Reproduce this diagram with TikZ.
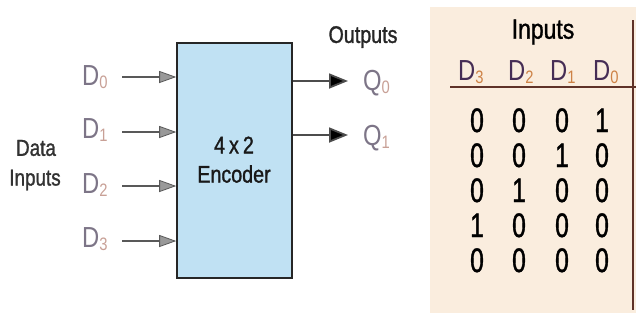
\documentclass[tikz,border=0pt]{standalone}
\usepackage{fontspec}
\setmainfont[FakeStretch=0.82]{Liberation Sans}
\newfontfamily\heavy[FakeStretch=0.82,FakeBold=1.2]{Liberation Sans}
\newfontfamily\digitfont[FakeStretch=0.72,FakeBold=1.2]{Liberation Sans}
\usetikzlibrary{arrows.meta}
\definecolor{boxblue}{RGB}{192,225,243}
\definecolor{tabbg}{RGB}{250,237,222}
\definecolor{tabline}{RGB}{95,50,40}
\definecolor{dgray}{RGB}{125,117,135}
\definecolor{subpeach}{RGB}{200,160,150}
\definecolor{hdD}{RGB}{70,45,85}
\definecolor{hdsub}{RGB}{205,130,70}
\definecolor{txt}{RGB}{50,50,50}
\newcommand{\Sig}[4]{\textcolor{#3}{#1}\raisebox{-3pt}{\fontsize{18}{18}\selectfont\textcolor{#4}{#2}}}
\tikzset{
  lbl/.style={inner sep=0pt, anchor=base west, font=\fontsize{29}{31}\selectfont},
  plain/.style={inner sep=0pt, text=txt, font=\heavy\fontsize{23}{25}\selectfont},
  digit/.style={inner sep=0pt, anchor=base, text=black, font=\digitfont\fontsize{34}{36}\selectfont},
  inarr/.style={draw=black!65, line width=1.8pt, -{Triangle[length=17pt,width=12pt,fill=black!40,line width=0.8pt]}},
  outarr/.style={draw=black!70, line width=1.8pt, -{Triangle[length=19pt,width=15pt,fill=black]}},
  tabrule/.style={draw=tabline, line width=1.8pt}
}
\begin{document}
\begin{tikzpicture}[x=1pt,y=-1pt]
\path[use as bounding box, fill=white] (0,0) rectangle (636,327);
% encoder block
\node[draw=black!85, line width=1.6pt, fill=boxblue, minimum width=115pt, minimum height=235pt, inner sep=0pt] (enc) at (234.5,160.5) {};
\node[inner sep=0pt, text=black!90, font=\heavy\fontsize{24}{26}\selectfont] (t42) at (234,145) {4\,x\,2};
\node[inner sep=0pt, text=black!90, font=\heavy\fontsize{24}{26}\selectfont] (tenc) at (234,174) {Encoder};
% data inputs
\node[plain] (data) at (36,148) {Data};
\node[plain] (dinp) at (35,180) {Inputs};
\node[lbl] (d0) at (82,85) {\Sig{D}{0}{dgray}{subpeach}};
\node[lbl] (d1) at (82,138) {\Sig{D}{1}{dgray}{subpeach}};
\node[lbl] (d2) at (82,193) {\Sig{D}{2}{dgray}{subpeach}};
\node[lbl] (d3) at (82,247) {\Sig{D}{3}{dgray}{subpeach}};
\coordinate (i0) at (122,77);
\coordinate (i1) at (122,132);
\coordinate (i2) at (122,186);
\coordinate (i3) at (122,241);
\draw[inarr] (i0) -- (i0 -| enc.west);
\draw[inarr] (i1) -- (i1 -| enc.west);
\draw[inarr] (i2) -- (i2 -| enc.west);
\draw[inarr] (i3) -- (i3 -| enc.west);
% outputs
\node[plain, text=black!85, font=\heavy\fontsize{24}{26}\selectfont] (outs) at (363,37) {Outputs};
\coordinate (o0) at (348,81);
\coordinate (o1) at (348,135);
\draw[outarr] (o0 -| enc.east) -- (o0);
\draw[outarr] (o1 -| enc.east) -- (o1);
\node[lbl] (q0) at (363,90) {\Sig{Q}{0}{dgray}{subpeach}};
\node[lbl] (q1) at (363,145) {\Sig{Q}{1}{dgray}{subpeach}};
% truth table (inputs part)
\node[fill=tabbg, minimum width=206pt, minimum height=306pt, inner sep=0pt] (tab) at (533,160) {};
\coordinate (vt) at (633,20);
\coordinate (vb) at (633,310);
\coordinate (hl) at (450,87);
\coordinate (hr) at (636,87);
\draw[tabrule] (vt) -- (vb);
\draw[tabrule] (hl) -- (hr);
\node[inner sep=0pt, text=black, font=\heavy\fontsize{28}{30}\selectfont] (tinp) at (543,32) {Inputs};
\node[lbl] (h3) at (458,80) {\Sig{D}{3}{hdD}{hdsub}};
\node[lbl] (h2) at (508,80) {\Sig{D}{2}{hdD}{hdsub}};
\node[lbl] (h1) at (550,80) {\Sig{D}{1}{hdD}{hdsub}};
\node[lbl] (h0) at (593,80) {\Sig{D}{0}{hdD}{hdsub}};
% rows
\node[digit] (r1a) at (477,132) {0}; \node[digit] (r1b) at (519,132) {0}; \node[digit] (r1c) at (562,132) {0}; \node[digit] (r1d) at (602,132) {1};
\node[digit] (r2a) at (477,167) {0}; \node[digit] (r2b) at (519,167) {0}; \node[digit] (r2c) at (562,167) {1}; \node[digit] (r2d) at (602,167) {0};
\node[digit] (r3a) at (477,202) {0}; \node[digit] (r3b) at (519,202) {1}; \node[digit] (r3c) at (562,202) {0}; \node[digit] (r3d) at (602,202) {0};
\node[digit] (r4a) at (477,237) {1}; \node[digit] (r4b) at (519,237) {0}; \node[digit] (r4c) at (562,237) {0}; \node[digit] (r4d) at (602,237) {0};
\node[digit] (r5a) at (477,272) {0}; \node[digit] (r5b) at (519,272) {0}; \node[digit] (r5c) at (562,272) {0}; \node[digit] (r5d) at (602,272) {0};
\end{tikzpicture}
\end{document}
